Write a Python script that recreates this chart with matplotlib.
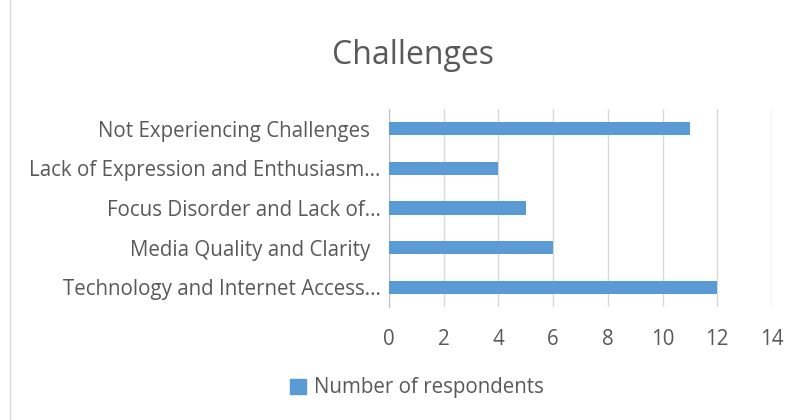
import matplotlib
matplotlib.use("Agg")
import matplotlib.pyplot as plt
from matplotlib.lines import Line2D
from matplotlib.patches import Patch

categories = ["Technology and Internet Access...",
              "Media Quality and Clarity  ",
              "Focus Disorder and Lack of...",
              "Lack of Expression and Enthusiasm...",
              "Not Experiencing Challenges  "]
respondents = [12, 6, 5, 4, 11]
xticks = [0, 2, 4, 6, 8, 10, 12, 14]

plt.rcParams['font.family'] = ['Open Sans', 'DejaVu Sans']
text_col = "#595959"
bar_col = "#5B9BD5"

fig = plt.figure(figsize=(8.02, 4.2), dpi=100)
ax = fig.add_axes([389/802, 1-307/420, (772-389)/802, 198/420])

ax.barh(range(len(categories)), respondents, height=0.33, color=bar_col, zorder=3)
ax.set_xlim(0, 14)
ax.set_ylim(-0.5, len(categories) - 0.5)
ax.set_xticks(xticks)
ax.set_yticks(range(len(categories)))
ax.set_yticklabels(categories)
ax.tick_params(axis="both", length=0, colors=text_col, labelsize=14.8)
ax.tick_params(axis="y", pad=6)
ax.tick_params(axis="x", pad=16)
ax.grid(axis="x", color="#D9D9D9", linewidth=1, zorder=0)
for s in ["top", "right", "bottom"]:
    ax.spines[s].set_visible(False)
ax.spines["left"].set_color("#BFBFBF")

fig.text(413/802, 1-55/420, "Challenges", ha="center", va="center",
         fontsize=23, color=text_col)

leg = fig.legend(handles=[Patch(color=bar_col, label="Number of respondents")],
                 loc="center", bbox_to_anchor=(417/802, 1-388/420), frameon=False,
                 fontsize=14.8, handlelength=0.75, handleheight=0.75, handletextpad=0.4,
                 labelcolor=text_col)

fig.add_artist(Line2D([10/802, 10/802], [0, 1], color="#D9D9D9", linewidth=1))

fig.savefig("out.png", dpi=100)
